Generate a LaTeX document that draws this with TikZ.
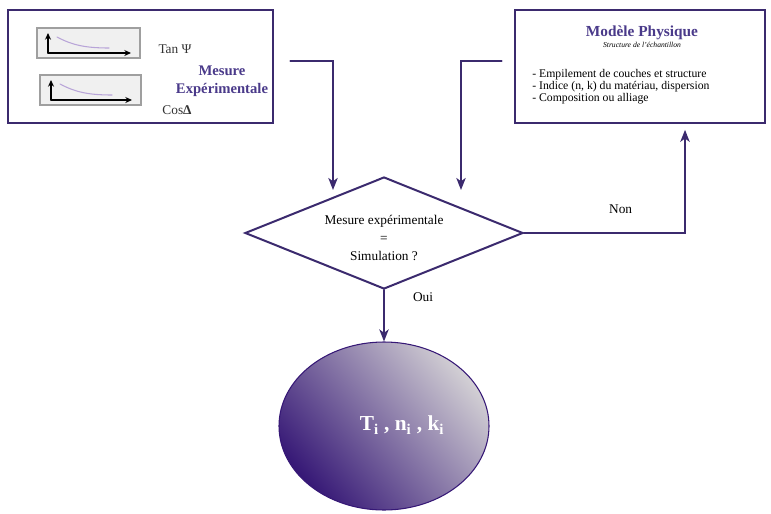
\documentclass[tikz,border=0pt]{standalone}
\usepackage{fontspec}
\setmainfont{Liberation Serif}
\usetikzlibrary{arrows.meta,shapes.geometric,calc}

\definecolor{framepurple}{HTML}{3B2A6E}
\definecolor{titlepurple}{HTML}{4A3A8A}
\definecolor{curvepurple}{HTML}{B8A4D8}
\definecolor{darkviolet}{HTML}{361876}
\definecolor{midviolet}{HTML}{4C3888}
\definecolor{paleviolet}{HTML}{D2CFD4}

\begin{document}
\begin{tikzpicture}[
	x=0.75pt, y=-0.75pt,
	every node/.style={font=\fontsize{10}{13.5}\selectfont, inner sep=0pt},
	line cap=round,
	frame/.style={draw=framepurple, line width=2.2pt, fill=white},
	flow/.style={draw=framepurple, line width=1.6pt, line join=miter,
		-{Stealth[length=9pt,width=7pt,inset=2.5pt]}},
	plotbox/.style={draw=gray!75, fill=gray!12, line width=0.8pt},
	axis/.style={line width=1.1pt, -{Stealth[length=5pt,width=4.5pt]}},
	curve/.style={draw=curvepurple, line width=0.8pt},
	heading/.style={font=\fontsize{11.5}{13.5}\selectfont\bfseries, text=titlepurple},
	lbl/.style={font=\fontsize{10}{12}\selectfont, text=black!80}
	]
	\useasboundingbox (0,0) rectangle (771,514);
	
	% Mesure experimentale
	\node[frame, minimum width=198.75pt, minimum height=84.75pt] (mesure) at (140.5,66.5) {};
	
	\foreach \bx/\by/\bw in {37/28/103, 40/75/101}
	{
		\begin{scope}[shift={(\bx,\by)}]
			\draw[plotbox] (0,0) rectangle (\bw,30);
			\draw[axis] (11,25) -- (11,5);
			\draw[axis] (11,25) -- (\bw-9,25);
			\draw[curve] (20,9) .. controls (35,17) and (48,20) .. (72,20);
		\end{scope}
	}
	
	\node[lbl] (tan) at (175,49) {Tan Ψ};
	\node[lbl] (cos) at (177,110) {Cos\textbf{Δ}};
	\node[heading, font=\fontsize{11}{13.5}\selectfont\bfseries, align=center] (mestitle) at (222,81) {Mesure\\Expérimentale};
	
	% Modele physique
	\node[frame, minimum width=187.5pt, minimum height=84.75pt] (modele) at (640,66.5) {};
	\node[heading] (modtitle) at (642,33) {Modèle Physique};
	\node[font=\fontsize{5.7}{7}\selectfont\itshape] (modsub) at (642,45) {Structure de l'échantillon};
	\node[anchor=west, align=left, font=\fontsize{8.8}{7.6}\selectfont] (modlist) at (532,87)
		{- Empilement de couches et structure\\
		 - Indice (n, k) du matériau, dispersion\\
		 - Composition ou alliage};
	
	% test
	\node[diamond, draw=framepurple, line width=1.5pt, fill=white, aspect=2.5,
		minimum width=208.5pt, minimum height=84pt] (test) at (384,233) {};
	\node[align=center] (testtext) at (384,238) {Mesure expérimentale\\=\\Simulation ?};
	
	% resultat
	\node[ellipse, draw=darkviolet, line width=0.8pt,
		top color=paleviolet, middle color=midviolet, bottom color=darkviolet, shading angle=-50,
		minimum width=157.5pt, minimum height=126pt] (result) at (384,426) {};
	\node[text=white, font=\fontsize{16}{18}\selectfont\bfseries] (tnk) at (402,425)
		{T\textsubscript{i} , n\textsubscript{i} , k\textsubscript{i}};
	
	\coordinate (lin) at (333,190);
	\coordinate (rin) at (461,190);
	
	\draw[flow, shorten <=12pt] ([yshift=4pt]mesure.east) -| (lin);
	\draw[flow, shorten <=9pt] ([yshift=4pt]modele.west) -| (rin);
	\draw[flow, shorten >=4pt] (test.east) -| ([xshift=33.75pt]modele.south)
		node[pos=0.3, above=14pt] (non) {Non};
	\draw[flow] (test.south) -- (result.north)
		node[pos=0.13, right=21pt] (oui) {Oui};
\end{tikzpicture}
\end{document}
